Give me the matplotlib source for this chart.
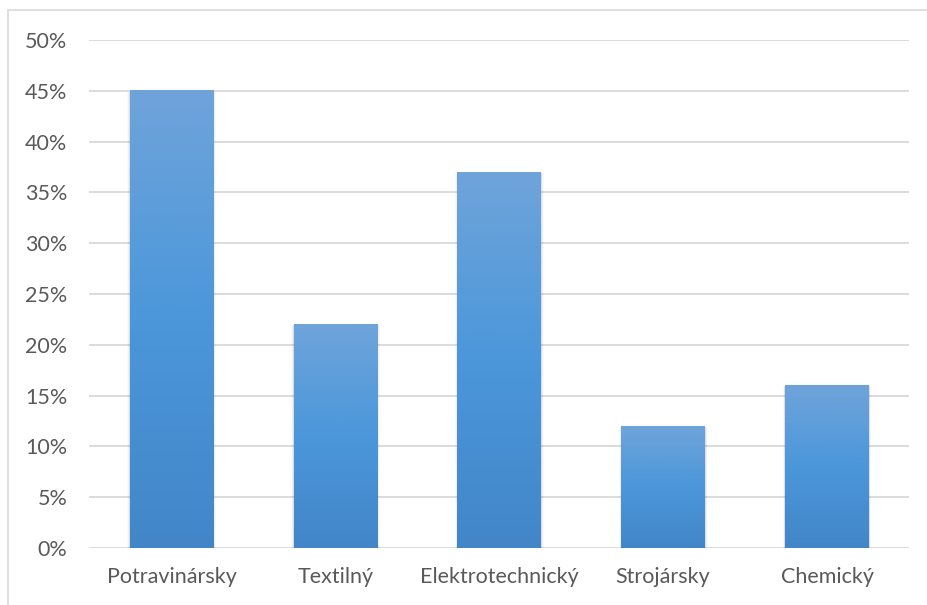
import matplotlib
matplotlib.use("Agg")
import matplotlib.pyplot as plt
import numpy as np
from matplotlib.ticker import MultipleLocator, FuncFormatter
from matplotlib.patches import Rectangle
from matplotlib.colors import LinearSegmentedColormap

categories = ["Potravinársky", "Textilný", "Elektrotechnický", "Strojársky", "Chemický"]
values = [45, 22, 37, 12, 16]

plt.rcParams['font.family'] = ['Lato', 'DejaVu Sans']

W, H = 928, 605
fig = plt.figure(figsize=(W/100, H/100), dpi=100)
# outer chart frame
fig.patches.append(Rectangle((8/W, -0.1), 1.2, (H-10)/H + 0.1, transform=fig.transFigure,
                             fill=False, edgecolor="#d9d9d9", linewidth=1.2))

left, right, top, bottom = 89.5, 909, 40, 548
ax = fig.add_axes([left/W, 1-bottom/H, (right-left)/W, (bottom-top)/H])

x = np.arange(len(categories))
width = 0.51
bars = ax.bar(x, values, width=width, color="none", edgecolor="none", zorder=3)

grad = np.linspace(0, 1, 256).reshape(-1, 1)
cmap = LinearSegmentedColormap.from_list("g", ["#4286c8", "#4b97da", "#6fa4da"])
for b in bars:
    bx, by = b.get_x(), b.get_y()
    bw, bh = b.get_width(), b.get_height()
    # soft shadow on the sides
    for k, a in enumerate([0.07, 0.04, 0.02]):
        d = 0.005 * (k + 1)
        ax.add_patch(Rectangle((bx - d, by), bw + 2*d, bh - 0.1, facecolor="#000000",
                               alpha=a, edgecolor="none", zorder=2))
    ax.imshow(grad, extent=[bx, bx + bw, by, by + bh], origin="lower", aspect="auto",
              cmap=cmap, zorder=3)

ax.set_xlim(-0.5, len(categories) - 0.5)
ax.set_ylim(0, 50)
ax.yaxis.set_major_locator(MultipleLocator(5))
ax.yaxis.set_major_formatter(FuncFormatter(lambda v, p: f"{int(round(v))}%"))
ax.set_xticks(x)
ax.set_xticklabels(categories)
ax.grid(axis="y", color="#d9d9d9", linewidth=1.3, zorder=0)
ax.set_axisbelow(True)
for s in ax.spines.values():
    s.set_visible(False)
ax.tick_params(axis="both", length=0, colors="#595959", labelsize=15.5)
ax.tick_params(axis="y", pad=16)
ax.tick_params(axis="x", pad=14)

fig.savefig("out.png", dpi=100)
